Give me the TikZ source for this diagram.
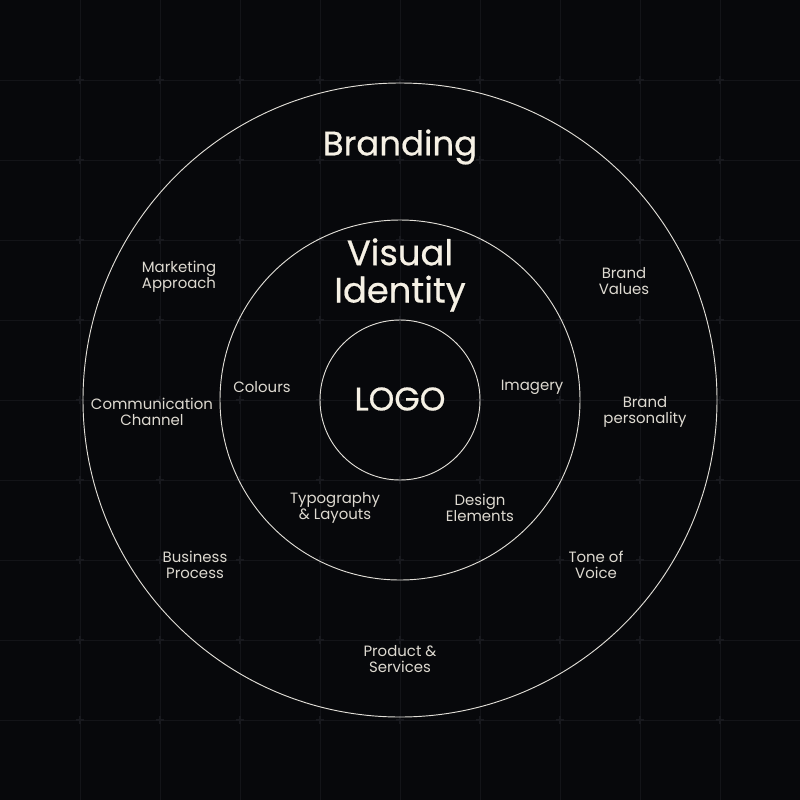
\documentclass[tikz,border=0pt]{standalone}
\usepackage{fontspec}
\setmainfont{Poppins}
\newfontfamily\headfont[FakeBold=0.6]{Poppins}
\usepackage{tikz}

\definecolor{bgcol}{RGB}{7,8,11}
\definecolor{gridcol}{RGB}{19,20,24}
\definecolor{pluscol}{RGB}{24,25,30}
\definecolor{ringcol}{RGB}{225,222,215}
\definecolor{headcol}{RGB}{246,241,229}
\definecolor{labelcol}{RGB}{222,218,209}

\tikzset{
  ring/.style={draw=ringcol, line width=0.7pt},
  lbl/.style={text=labelcol, align=center, inner sep=0.75pt, font=\fontsize{11.2}{12.2}\selectfont},
  head/.style={text=headcol, align=center, inner sep=0.75pt}
}

\begin{document}
\begin{tikzpicture}[x=0.75pt,y=0.75pt,yscale=-1,xscale=1]
%Background
\fill[bgcol] (0,0) rectangle (800,800);
\useasboundingbox (0,0) rectangle (800,800);
%Grid
\foreach \k in {80,160,...,720}{
  \draw[gridcol, line width=0.6pt] (\k,0) -- (\k,800);
  \draw[gridcol, line width=0.6pt] (0,\k) -- (800,\k);
}
\foreach \i in {80,160,...,720}{
  \foreach \j in {80,160,...,720}{
    \draw[pluscol, line width=0.8pt] (\i-4,\j) -- (\i+4,\j) (\i,\j-4) -- (\i,\j+4);
  }
}

%Shape: Circles
\draw[ring] (400,400) circle [radius=317];
\draw[ring] (400,400) circle [radius=180];
\draw[ring] (400,400) circle [radius=80];

% Text Node
\node[head, font=\headfont\fontsize{25.5}{30}\selectfont] (branding) at (400,147) {Branding};
% Text Node
\node[head, font=\headfont\fontsize{26.5}{28}\selectfont] (visual) at (400,275) {Visual\\Identity};
% Text Node
\node[head, font=\headfont\fontsize{24.5}{30}\selectfont] (logo) at (400,399) {LOGO};

% Text Node
\node[lbl] (marketing) at (179,277) {Marketing\\Approach};
% Text Node
\node[lbl] (values) at (624,281) {Brand\\Values};
% Text Node
\node[lbl] (channel) at (152,412) {Communication\\Channel};
% Text Node
\node[lbl] (personality) at (645,412) {Brand\\personality};
% Text Node
\node[lbl] (colours) at (262,387) {Colours};
% Text Node
\node[lbl] (imagery) at (532,387) {Imagery};
% Text Node
\node[lbl] (typography) at (335,508) {Typography\\\& Layouts};
% Text Node
\node[lbl] (design) at (480,508) {Design\\Elements};
% Text Node
\node[lbl] (business) at (195,565) {Business\\Process};
% Text Node
\node[lbl] (tone) at (596,565) {Tone of\\Voice};
% Text Node
\node[lbl] (product) at (400,659) {Product \&\\Services};

\end{tikzpicture}
\end{document}
